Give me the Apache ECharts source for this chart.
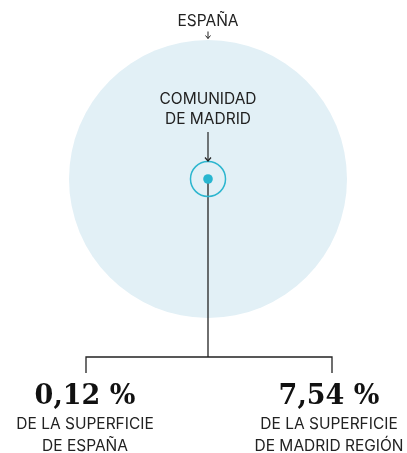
<!DOCTYPE html>
<html lang="es">
<head>
<meta charset="UTF-8">
<title>Superficie</title>
<script src="https://cdn.jsdelivr.net/npm/echarts@6/dist/echarts.min.js"></script>
<style>
    html, body { margin: 0; padding: 0; background: #fff; }
    #chart { width: 407px; height: 453px; }
</style>
</head>
<body>
<div id="chart"></div>
<script>
// superficies en km2: España, Comunidad de Madrid, zona
var areaNames = ['ESPAÑA', 'COMUNIDAD\nDE MADRID', 'ZONA'];
var areaKm2 = [505990, 8028, 605];
// porcentajes de la zona
var shareValues = [0.12, 7.54];
var shareLabels = ['DE LA SUPERFICIE\nDE ESPAÑA', 'DE LA SUPERFICIE\nDE MADRID REGIÓN'];

var cx = 208, cy = 179;          // centro de los círculos
var maxDiameter = 278;           // diámetro de España
var ink = '#222';
var sans = 'Inter, Roboto, sans-serif';

function diameter(a) {
    return maxDiameter * Math.sqrt(a / areaKm2[0]);
}

function pct(v) {
    return v.toFixed(2).replace('.', ',') + ' %';
}

var styles = [
    {color: '#e2f0f6'},
    {color: 'rgba(0,0,0,0)', borderColor: '#2db6cf', borderWidth: 1.5},
    {color: '#27b6d0'}
];

function circles(from, to, z) {
    return {
        type: 'scatter',
        z: z,
        silent: true,
        data: areaKm2.slice(from, to).map(function (a, j) {
            var i = from + j;
            return {name: areaNames[i], value: [cx, cy, a], itemStyle: styles[i]};
        }),
        symbolSize: function (val) { return diameter(val[2]); },
        itemStyle: {opacity: 1}
    };
}

var chart = echarts.init(document.getElementById('chart'));

var graphics = [
    // flecha España
    {type: 'line', z: 10, shape: {x1: cx, y1: 31.5, x2: cx, y2: 38.5}, style: {stroke: ink, lineWidth: 1}},
    {type: 'polyline', z: 10, shape: {points: [[cx - 2.5, 35.5], [cx, 38.5], [cx + 2.5, 35.5]]}, style: {stroke: ink, lineWidth: 1, fill: null}},
    // flecha Madrid
    {type: 'line', z: 10, shape: {x1: cx, y1: 132, x2: cx, y2: 161}, style: {stroke: ink, lineWidth: 1.2}},
    {type: 'polyline', z: 10, shape: {points: [[cx - 3, 157.5], [cx, 161], [cx + 3, 157.5]]}, style: {stroke: ink, lineWidth: 1.2, fill: null}},
    // llave inferior
    {type: 'line', z: 2, shape: {x1: cx, y1: cy, x2: cx, y2: 357}, style: {stroke: ink, lineWidth: 1.3}},
    {type: 'polyline', z: 10, shape: {points: [[86, 373], [86, 357], [332, 357], [332, 373]]}, style: {stroke: ink, lineWidth: 1.3, fill: null}},
    // títulos
    {type: 'text', z: 10, style: {text: areaNames[0], x: cx, y: 21, align: 'center', verticalAlign: 'middle', font: '15.5px ' + sans, fill: ink}},
    {type: 'text', z: 10, style: {text: areaNames[1], x: cx, y: 89, align: 'center', verticalAlign: 'top', lineHeight: 20, font: '15.5px ' + sans, fill: ink}}
];

var shareX = [85, 329];
shareValues.forEach(function (v, i) {
    graphics.push({type: 'text', z: 10, style: {
        text: pct(v), x: shareX[i], y: 396.5, align: 'center', verticalAlign: 'middle',
        font: 'bold 27px "DejaVu Serif", serif', fill: '#111'
    }});
    graphics.push({type: 'text', z: 10, style: {
        text: shareLabels[i], x: shareX[i], y: 413, align: 'center', verticalAlign: 'top',
        lineHeight: 22, font: '15.5px ' + sans, fill: ink
    }});
});

var option = {
    animation: false,
    grid: {left: 0, right: 0, top: 0, bottom: 0},
    xAxis: {type: 'value', min: 0, max: 407, show: false},
    yAxis: {type: 'value', min: 0, max: 453, inverse: true, show: false},
    series: [circles(0, 1, 0), circles(1, 3, 5)],
    graphic: graphics
};
chart.setOption(option);
</script>
</body>
</html>
